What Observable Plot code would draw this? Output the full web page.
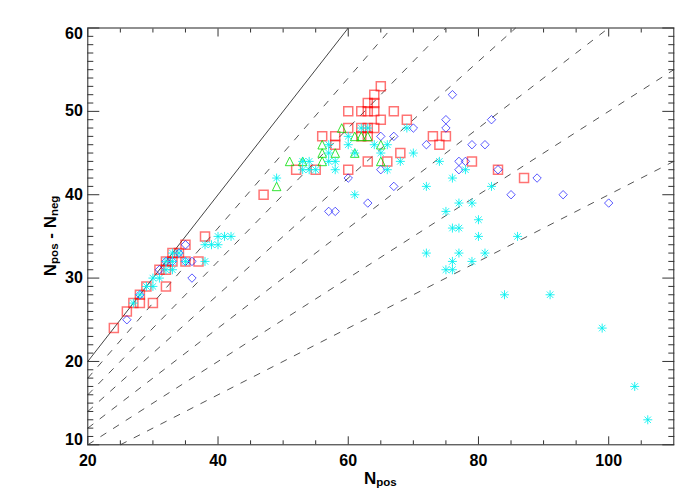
<!DOCTYPE html>
<html>
<head>
<meta charset="utf-8">
<script src="https://cdn.jsdelivr.net/npm/d3@7"></script>
<script src="https://cdn.jsdelivr.net/npm/@observablehq/plot@0.6"></script>
<style>
  html, body { margin: 0; padding: 0; background: #ffffff; }
  #chart { width: 700px; height: 500px; }
</style>
</head>
<body>
<div id="chart"></div>
<script>
// ---- data (N_pos, N_pos - N_neg) ----
const squareNpos = [24,26,27,28,30,28,29,32,31,32,32,33,35,37,33,34,35,38,47,52,55,60,63,66,68,58,56,58,62,63,60,62,63,64,65,69,60,62,63,64,67,63,64,64,65,74,73,75,79,83,87];
const squareDiff = [24,26,27,27,27,28,29,29,31,31,32,32,32,32,33,33,34,35,40,43,43,43,44,44,45,46,47,47,47,47,48,48,48,48,49,49,50,50,50,50,50,51,51,52,53,46,47,47,44,43,42];

const diamondNpos = [26,28,31,32,33,35,36,34,35,36,57,58,60,63,65,65,67,67,70,72,75,75,76,77,78,77,79,81,82,83,85,89,93,100];
const diamondDiff = [25,28,31,32,32,32,32,33,34,30,38,38,42,39,43,47,47,41,48,46,48,49,52,44,44,43,46,46,49,43,40,42,40,39];

const triangleNpos = [49,51,53,56,56,56,58,59,61,62,63,61,65,65];
const triangleDiff = [41,44,44,44,45,46,45,48,47,47,47,45,46,44];

const starNpos = [27,28,29,30,30,31,32,33,32,33,35,38,33,34,38,39,40,40,41,42,
  49,53,54,53,54,55,57,58,58,57,57,60,60,61,62,63,64,65,66,66,68,69,70,61,72,74,76,78,82,
  77,79,75,80,76,77,80,86,72,77,81,76,79,75,76,84,91,99,104,106];
const starDiff = [27,28,29,29,30,30,31,31,32,32,32,32,33,33,34,34,34,35,35,35,
  42,44,44,43,43,43,44,44,43,45,46,46,47,45,48,48,46,45,46,43,44,48,45,40,41,44,42,43,41,
  39,39,38,37,36,36,35,35,33,33,33,32,32,31,31,28,28,24,17,13];

// reference lines: N_pos - N_neg = slope * N_pos
const slopes = [1.0, 0.9, 0.8, 0.7, 0.6, 0.5, 0.4];

const xDomain = [20, 110];
const yDomain = [10, 60];
const xMajor = [20, 40, 60, 80, 100];
const xMinor = [25, 30, 35, 45, 50, 55, 65, 70, 75, 85, 90, 95, 105];
const yMajor = [10, 20, 30, 40, 50, 60];
const yMinor = d3.range(11, 60).filter(v => v % 10 !== 0);

// ---- tables built from arrays ----
const squares = squareNpos.map((x, i) => ({x, y: squareDiff[i]}));
const diamonds = diamondNpos.map((x, i) => ({x, y: diamondDiff[i]}));
const triangles = triangleNpos.map((x, i) => ({x, y: triangleDiff[i]}));
const stars = starNpos.map((x, i) => ({x, y: starDiff[i]}));
const guides = slopes.map(s => {
  const xa = Math.max(xDomain[0], yDomain[0] / s);
  const xb = Math.min(xDomain[1], yDomain[1] / s);
  return {s, x1: xa, y1: s * xa, x2: xb, y2: s * xb};
});

// ---- custom IDL-like symbols ----
const rad = size => Math.sqrt(size / Math.PI);
const symSquare = {draw(c, size) { const r = rad(size); c.moveTo(-r, -r); c.lineTo(r, -r); c.lineTo(r, r); c.lineTo(-r, r); c.closePath(); }};
const symDiamond = {draw(c, size) { const r = rad(size); c.moveTo(0, -r); c.lineTo(r, 0); c.lineTo(0, r); c.lineTo(-r, 0); c.closePath(); }};
const symTriangle = {draw(c, size) { const r = rad(size); c.moveTo(0, -r); c.lineTo(r, r); c.lineTo(-r, r); c.closePath(); }};
const symAsterisk = {draw(c, size) { const r = rad(size), d = r * 0.72;
  c.moveTo(-r, 0); c.lineTo(r, 0); c.moveTo(0, -r); c.lineTo(0, r);
  c.moveTo(-d, -d); c.lineTo(d, d); c.moveTo(-d, d); c.lineTo(d, -d); }};

const font = "'Liberation Sans', Arial, Helvetica, sans-serif";
const tickColor = "#333";

const chart = Plot.plot({
  width: 700,
  height: 500,
  marginLeft: 87.3,
  marginRight: 26.7,
  marginTop: 27.5,
  marginBottom: 55.7,
  x: {domain: xDomain},
  y: {domain: yDomain},
  style: {fontFamily: font, background: "#ffffff", color: "#000"},
  marks: [
    // guide lines
    Plot.link(guides.filter(d => d.s === 1), {x1: "x1", y1: "y1", x2: "x2", y2: "y2", stroke: "#444", strokeWidth: 1}),
    Plot.link(guides.filter(d => d.s !== 1), {x1: "x1", y1: "y1", x2: "x2", y2: "y2", stroke: "#555", strokeWidth: 1, strokeDasharray: "7,8"}),
    // data
    Plot.dot(squares, {x: "x", y: "y", symbol: symSquare, r: 4.5, fill: "none", stroke: "#ff0000", strokeOpacity: 0.55, strokeWidth: 1.5}),
    Plot.dot(triangles, {x: "x", y: "y", symbol: symTriangle, r: 4.3, fill: "none", stroke: "#00dd00", strokeOpacity: 0.8, strokeWidth: 1}),
    Plot.dot(diamonds, {x: "x", y: "y", symbol: symDiamond, r: 4.2, fill: "none", stroke: "#0000ff", strokeOpacity: 0.65, strokeWidth: 1}),
    Plot.dot(stars, {x: "x", y: "y", symbol: symAsterisk, r: 4.5, fill: "none", stroke: "#00f0f0", strokeOpacity: 0.85, strokeWidth: 1}),
    // frame
    Plot.frame({stroke: "#222", strokeWidth: 1}),
    // inward ticks, x
    Plot.axisX({anchor: "bottom", ticks: xMajor, tickSize: 8, dy: -8, fill: "none", stroke: tickColor, label: null}),
    Plot.axisX({anchor: "bottom", ticks: xMinor, tickSize: 4, dy: -4, fill: "none", stroke: tickColor, label: null}),
    Plot.axisX({anchor: "top", ticks: xMajor, tickSize: 8, dy: 8, fill: "none", stroke: tickColor, label: null}),
    Plot.axisX({anchor: "top", ticks: xMinor, tickSize: 4, dy: 4, fill: "none", stroke: tickColor, label: null}),
    // inward ticks, y
    Plot.axisY({anchor: "left", ticks: yMajor, tickSize: 12, dx: 12, fill: "none", stroke: tickColor, label: null}),
    Plot.axisY({anchor: "left", ticks: yMinor, tickSize: 6, dx: 6, fill: "none", stroke: tickColor, label: null}),
    Plot.axisY({anchor: "right", ticks: yMajor, tickSize: 12, dx: -12, fill: "none", stroke: tickColor, label: null}),
    Plot.axisY({anchor: "right", ticks: yMinor, tickSize: 6, dx: -6, fill: "none", stroke: tickColor, label: null}),
    // tick labels
    Plot.axisX({anchor: "bottom", ticks: xMajor, tickSize: 0, tickPadding: 10, tickFormat: d => String(d), fontSize: 16, fontWeight: "bold", fill: "#000", label: null}),
    Plot.axisY({anchor: "left", ticks: yMajor.filter(v => v !== 10 && v !== 60), tickSize: 0, tickPadding: 5, tickFormat: d => String(d), fontSize: 16, fontWeight: "bold", fill: "#000", label: null}),
    Plot.axisY({anchor: "left", ticks: [60], tickSize: 0, tickPadding: 5, dy: 5.5, tickFormat: d => String(d), fontSize: 16, fontWeight: "bold", fill: "#000", label: null}),
    Plot.axisY({anchor: "left", ticks: [10], tickSize: 0, tickPadding: 5, dy: -5, tickFormat: d => String(d), fontSize: 16, fontWeight: "bold", fill: "#000", label: null})
  ]
});

document.getElementById("chart").appendChild(chart);

// axis titles with subscripts
const svg = d3.select(chart);
const cx = 87.3 + (700 - 87.3 - 26.7) / 2;
const cy = 27.5 + (500 - 27.5 - 55.7) / 2;

const xt = svg.append("text")
  .attr("x", cx).attr("y", 483.5)
  .attr("text-anchor", "middle")
  .attr("font-family", font).attr("font-weight", "bold").attr("font-size", 17).attr("fill", "#000");
xt.append("tspan").text("N");
xt.append("tspan").attr("font-size", 11.5).attr("dy", 2.5).text("pos");

const yt = svg.append("text")
  .attr("transform", `translate(55.5,${cy}) rotate(-90)`)
  .attr("text-anchor", "middle")
  .attr("font-family", font).attr("font-weight", "bold").attr("font-size", 17).attr("fill", "#000");
yt.append("tspan").text("N");
yt.append("tspan").attr("font-size", 11.5).attr("dy", 2.5).text("pos");
yt.append("tspan").attr("dy", -2.5).text(" - N");
yt.append("tspan").attr("font-size", 11.5).attr("dy", 2.5).text("neg");
</script>
</body>
</html>
